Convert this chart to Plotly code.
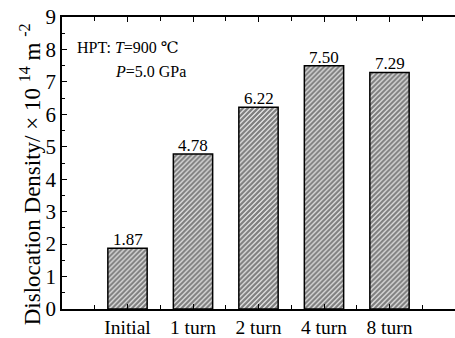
import plotly.graph_objects as go

categories = ["Initial", "1 turn", "2 turn", "4 turn", "8 turn"]
values = [1.87, 4.78, 6.22, 7.50, 7.29]
value_labels = ["1.87", "4.78", "6.22", "7.50", "7.29"]
y_ticks = [0, 1, 2, 3, 4, 5, 6, 7, 8, 9]

FONT = "Times New Roman, Liberation Serif, DejaVu Serif, serif"
xpos = list(range(len(categories)))

fig = go.Figure()
fig.add_trace(go.Bar(
    x=xpos, y=values, width=0.6,
    marker=dict(color="white", line=dict(color="black", width=1.5),
                pattern=dict(shape="/", fgcolor="black", bgcolor="white",
                             size=3.5, solidity=0.72, fillmode="overlay")),
))

for xp, v, lab in zip(xpos, values, value_labels):
    fig.add_annotation(x=xp, y=v, xref="x", yref="y", text=lab, showarrow=False,
                       xanchor="center", yanchor="bottom", yshift=-3,
                       font=dict(family=FONT, size=17, color="black"))

fig.update_layout(
    width=455, height=338,
    margin=dict(l=62, r=0, t=17, b=26),
    paper_bgcolor="white", plot_bgcolor="white",
    showlegend=False,
    font=dict(family=FONT, color="black"),
    xaxis=dict(range=[-1, 5], tickmode="array", tickvals=xpos, ticktext=categories,
               ticks="inside", ticklen=5, tickwidth=1.2, tickcolor="black",
               showline=True, linecolor="black", linewidth=1.5, mirror="ticks",
               showgrid=False, zeroline=False,
               tickfont=dict(family=FONT, size=19.5, color="black"),
               minor=dict(tickmode="linear", tick0=-0.5, dtick=1, ticks="inside",
                          ticklen=4, tickcolor="black", tickwidth=1.2)),
    yaxis=dict(range=[0, 9], tickmode="array", tickvals=y_ticks,
               ticks="inside", ticklen=5, tickwidth=1.2, tickcolor="black",
               showline=True, linecolor="black", linewidth=1.5,
               showgrid=False, zeroline=False,
               tickfont=dict(family=FONT, size=21, color="black"),
               minor=dict(tickmode="linear", tick0=0.5, dtick=1, ticks="inside",
                          ticklen=3, tickcolor="black", tickwidth=1.2)),
)

fig.add_annotation(
    xref="paper", yref="paper", x=-0.081, y=0.462, xanchor="center", yanchor="middle",
    textangle=-90, showarrow=False,
    text="Dislocation Density/ × 10 <sup>14</sup> m <sup>-2</sup>",
    font=dict(family=FONT, size=23, color="black"),
)
fig.add_annotation(
    xref="paper", yref="paper", x=0.033, y=0.895, xanchor="left", yanchor="middle",
    showarrow=False, text="HPT: <i>T</i>=900 ℃",
    font=dict(family=FONT, size=16, color="black"),
)
fig.add_annotation(
    xref="paper", yref="paper", x=0.13, y=0.813, xanchor="left", yanchor="middle",
    showarrow=False, text="<i>P</i>=5.0 GPa",
    font=dict(family=FONT, size=16, color="black"),
)

fig.write_html("out.html")
